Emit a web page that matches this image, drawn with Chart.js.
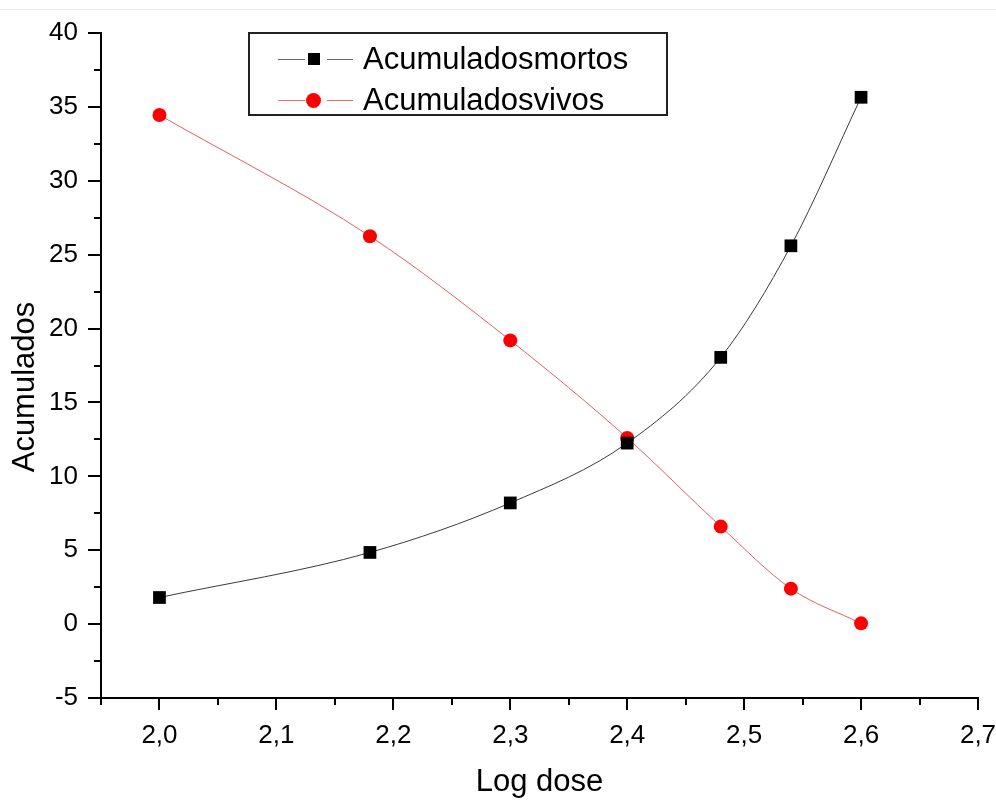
<!DOCTYPE html>
<html><head><meta charset="utf-8">
<script src="https://cdn.jsdelivr.net/npm/chart.js@4.4.1/dist/chart.umd.min.js"></script>
<style>
html,body{margin:0;padding:0;background:#fff;}
#wrap{position:relative;width:996px;height:801px;overflow:hidden;}
#topline{position:absolute;left:0;top:9px;width:996px;height:1px;background:#f3e8ef;}
#legend{position:absolute;left:248px;top:32px;width:420px;height:84px;border:2px solid #222;box-sizing:border-box;font-family:'Liberation Sans',Arial,sans-serif;font-size:31px;color:#000;}
.row{position:absolute;left:0;height:40px;width:100%;}
.seg{position:absolute;height:1px;top:20px;}
.txt{position:absolute;left:113px;top:2px;line-height:36px;white-space:nowrap;}
.sq{position:absolute;width:12px;height:12px;background:#000;left:58px;top:14px;}
.ci{position:absolute;width:15px;height:15px;border-radius:50%;background:#ff0000;left:56px;top:13px;}
</style></head>
<body>
<div id="wrap">
<canvas id="c" width="996" height="801"></canvas>
<div id="topline"></div>
<div id="legend">
  <div class="row" style="top:5px;">
    <div class="seg" style="left:28px;width:27px;background:#666;"></div>
    <div class="sq"></div>
    <div class="seg" style="left:77px;width:26px;background:#666;"></div>
    <div class="txt">Acumuladosmortos</div>
  </div>
  <div class="row" style="top:46px;">
    <div class="seg" style="left:28px;width:27px;background:#e07070;"></div>
    <div class="ci"></div>
    <div class="seg" style="left:77px;width:26px;background:#e07070;"></div>
    <div class="txt">Acumuladosvivos</div>
  </div>
</div>
</div>
<script>
const logDose = [2.0, 2.18, 2.3, 2.4, 2.48, 2.54, 2.6];
const acumuladosMortos = [1.8, 4.85, 8.2, 12.25, 18.05, 25.6, 35.65];
const acumuladosVivos = [34.45, 26.25, 19.2, 12.6, 6.6, 2.4, 0.05];
const xTickValues = [2.0, 2.1, 2.2, 2.3, 2.4, 2.5, 2.6, 2.7];
const yTickValues = [-5, 0, 5, 10, 15, 20, 25, 30, 35, 40];
const xMinorValues = [1.95, 2.05, 2.15, 2.25, 2.35, 2.45, 2.55, 2.65];
const yMinorValues = [-2.5, 2.5, 7.5, 12.5, 17.5, 22.5, 27.5, 32.5, 37.5];
const xTitle = 'Log dose';
const yTitle = 'Acumulados';

const FONT = "'Liberation Sans', Arial, sans-serif";

const tickPlugin = {
  id: 'originTicks',
  afterDraw(chart) {
    const ctx = chart.ctx;
    const xs = chart.scales.x, ys = chart.scales.y;
    const area = chart.chartArea;
    ctx.save();
    ctx.strokeStyle = '#000';
    ctx.lineWidth = 2;
    ctx.beginPath();
    yTickValues.forEach(v => { const p = Math.round(ys.getPixelForValue(v)); ctx.moveTo(area.left - 13, p); ctx.lineTo(area.left, p); });
    yMinorValues.forEach(v => { const p = Math.round(ys.getPixelForValue(v)); ctx.moveTo(area.left - 7, p); ctx.lineTo(area.left, p); });
    xTickValues.forEach(v => { const p = Math.round(xs.getPixelForValue(v)); ctx.moveTo(p, area.bottom); ctx.lineTo(p, area.bottom + 12); });
    xMinorValues.forEach(v => { const p = Math.round(xs.getPixelForValue(v)); ctx.moveTo(p, area.bottom); ctx.lineTo(p, area.bottom + 7); });
    ctx.stroke();
    ctx.fillStyle = '#000';
    ctx.font = '31px ' + FONT;
    ctx.textAlign = 'center';
    ctx.textBaseline = 'middle';
    ctx.translate(25, 387);
    ctx.rotate(-Math.PI / 2);
    ctx.fillText(yTitle, 0, 0);
    ctx.restore();
  }
};

new Chart(document.getElementById('c'), {
  type: 'scatter',
  data: {
    datasets: [
      {
        label: 'Acumuladosmortos',
        data: logDose.map((x, i) => ({ x: x, y: acumuladosMortos[i] })),
        showLine: true,
        borderColor: '#3a3a3a',
        borderWidth: 1,
        backgroundColor: '#000',
        pointStyle: 'rect',
        pointRadius: 9,
        pointBorderWidth: 0,
        pointBackgroundColor: '#000',
        cubicInterpolationMode: 'monotone'
      },
      {
        label: 'Acumuladosvivos',
        data: logDose.map((x, i) => ({ x: x, y: acumuladosVivos[i] })),
        showLine: true,
        borderColor: '#e06060',
        borderWidth: 1,
        backgroundColor: '#ff0000',
        pointStyle: 'circle',
        pointRadius: 7,
        pointBorderWidth: 0,
        pointBackgroundColor: '#ff0000',
        cubicInterpolationMode: 'monotone'
      }
    ]
  },
  options: {
    responsive: false,
    animation: false,
    events: [],
    layout: { padding: { left: 0, top: 33, right: 18, bottom: 0 } },
    plugins: { legend: { display: false }, tooltip: { enabled: false } },
    scales: {
      x: {
        type: 'linear',
        min: 1.95, max: 2.7,
        afterBuildTicks: s => { s.ticks = xTickValues.map(v => ({ value: v })); },
        afterFit: s => { s.height = 103; s.paddingLeft = 0; s.paddingRight = 0; },
        grid: { display: false },
        border: { display: true, color: '#000', width: 2 },
        ticks: {
          color: '#000', padding: 14, maxRotation: 0, autoSkip: false,
          font: { family: FONT, size: 26 },
          callback: v => Number(v).toFixed(1).replace('.', ',')
        },
        title: { display: true, text: xTitle, color: '#000', font: { family: FONT, size: 31 }, padding: { top: 6, bottom: 0 } }
      },
      y: {
        type: 'linear',
        min: -5, max: 40,
        afterBuildTicks: s => { s.ticks = yTickValues.map(v => ({ value: v })); },
        afterFit: s => { s.width = 101; s.paddingTop = 0; s.paddingBottom = 0; },
        grid: { display: false },
        border: { display: true, color: '#000', width: 2 },
        ticks: {
          color: '#000', padding: 15, autoSkip: false,
          font: { family: FONT, size: 26 },
          callback: v => String(v)
        }
      }
    }
  },
  plugins: [tickPlugin]
});
</script>
</body></html>
